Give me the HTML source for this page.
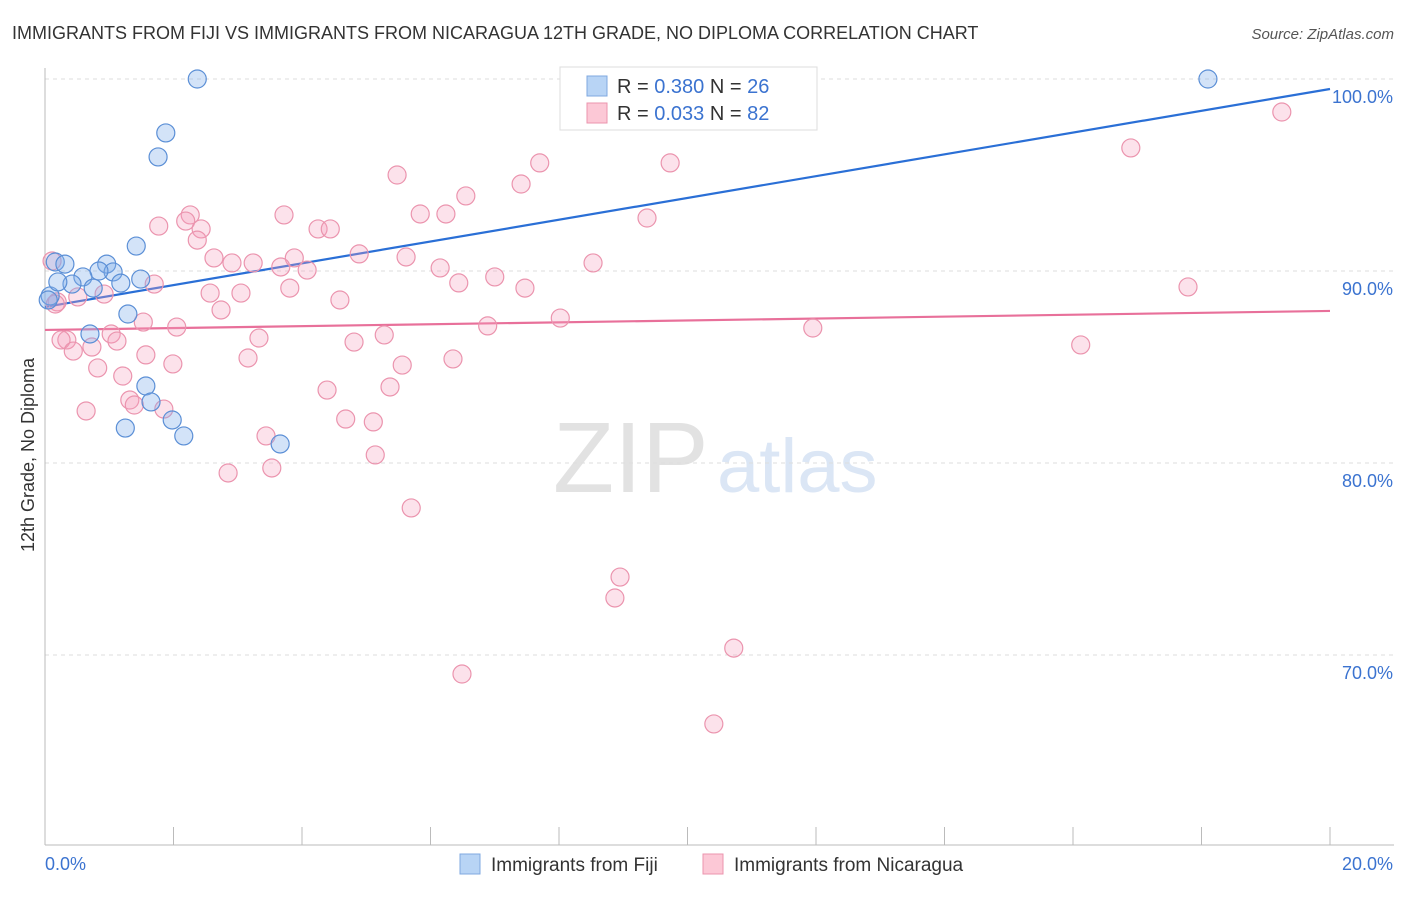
<!DOCTYPE html>
<html><head><meta charset="utf-8">
<style>
body{margin:0;background:#fff;font-family:"Liberation Sans",sans-serif;}
svg text{font-family:"Liberation Sans",sans-serif;}
</style></head>
<body>
<svg id="chart" width="1406" height="892" viewBox="0 0 1406 892" xmlns="http://www.w3.org/2000/svg">
<text x="12" y="39" font-size="18" fill="#333">IMMIGRANTS FROM FIJI VS IMMIGRANTS FROM NICARAGUA 12TH GRADE, NO DIPLOMA CORRELATION CHART</text>
<text x="1394" y="39" font-size="15" fill="#555" text-anchor="end" font-style="italic">Source: ZipAtlas.com</text>
<g>
<text x="553" y="492" font-size="100" fill="#e2e2e2" font-family="Liberation Serif, serif">ZIP</text>
<text x="717" y="492" font-size="76" fill="#dbe6f5">atlas</text>
</g>
<g id="grid"></g>
<g id="axes"></g>
<g id="lines"></g>
<g id="pts"></g>
<text transform="translate(34,455) rotate(-90)" font-size="18" fill="#333" text-anchor="middle">12th Grade, No Diploma</text>
<g>
<rect x="560" y="67" width="257" height="63" fill="#fff" stroke="#ddd"/>
<rect x="587" y="76" width="20" height="20" fill="#b8d4f5" stroke="#7fa8e0"/>
<text x="617" y="93" font-size="20" fill="#333">R = <tspan fill="#3b73d0">0.380</tspan>   N = <tspan fill="#3b73d0">26</tspan></text>
<rect x="587" y="103" width="20" height="20" fill="#fcc8d6" stroke="#eb94ae"/>
<text x="617" y="120" font-size="20" fill="#333">R = <tspan fill="#3b73d0">0.033</tspan>   N = <tspan fill="#3b73d0">82</tspan></text>
</g>
<g>
<rect x="460" y="854" width="20" height="20" fill="#b8d4f5" stroke="#7fa8e0"/>
<text x="491" y="871" font-size="19" fill="#333">Immigrants from Fiji</text>
<rect x="703" y="854" width="20" height="20" fill="#fcc8d6" stroke="#eb94ae"/>
<text x="734" y="871" font-size="19" fill="#333">Immigrants from Nicaragua</text>
</g>
</svg>
<script>
const yTicks=[100,90,80,70];
const yTickLabels=["100.0%","90.0%","80.0%","70.0%"];
const xTicks=[0,2,4,6,8,10,12,14,16,18,20];
const fijiX=[2.37,1.88,1.76,1.42,0.16,0.31,0.96,1.06,0.84,0.59,0.42,1.49,1.18,0.75,0.08,0.05,1.29,0.70,1.57,1.65,1.98,1.25,2.16,3.66,18.10,0.20];
const fijiY=[100,97.19,95.94,91.30,90.47,90.36,90.36,89.95,90.0,89.69,89.32,89.58,89.37,89.11,88.70,88.49,87.76,86.72,84.01,83.18,82.24,81.82,81.41,80.99,100,89.43];
const nicX=[19.25,16.90,9.73,7.70,5.48,7.41,6.55,9.37,5.84,6.24,3.72,2.26,2.19,1.77,2.43,4.25,4.44,2.37,4.89,3.88,2.63,2.91,3.24,5.62,3.67,4.08,8.53,6.15,7.00,6.44,17.79,3.81,1.70,7.47,0.92,0.51,2.57,3.05,0.19,4.59,2.74,8.02,1.53,6.89,2.05,11.95,5.28,3.33,1.03,0.34,0.25,1.12,16.12,4.81,0.73,0.44,1.57,3.16,6.35,1.99,5.56,0.82,1.21,5.37,4.39,1.32,1.39,1.85,0.64,4.68,5.11,3.44,5.14,2.85,3.53,5.70,8.95,8.87,10.72,6.49,10.41,0.11,0.16];
const nicY=[98.28,96.41,95.63,95.63,95.0,94.53,93.91,92.76,92.97,92.97,92.92,92.92,92.60,92.34,92.19,92.19,92.19,91.61,90.89,90.68,90.68,90.42,90.42,90.73,90.21,90.05,90.42,90.16,89.69,89.38,89.17,89.11,89.32,89.11,88.80,88.65,88.85,88.85,88.39,88.49,87.97,87.55,87.34,87.14,87.08,87.03,86.67,86.51,86.72,86.41,86.41,86.35,86.15,86.30,86.04,85.83,85.63,85.47,85.42,85.16,85.10,84.95,84.53,83.96,83.80,83.28,83.02,82.81,82.71,82.29,82.14,81.41,80.42,79.48,79.74,77.66,74.06,72.97,70.36,69.01,66.41,90.52,88.28];
const fijiTrend=[88.13,99.48];
const nicTrend=[86.93,87.92];
const NS="http://www.w3.org/2000/svg";
const xs=v=>45+v/20*1285;
const ys=v=>79+(100-v)*19.2;
function mk(tag,attrs,parent){const e=document.createElementNS(NS,tag);for(const k in attrs)e.setAttribute(k,attrs[k]);document.getElementById(parent).appendChild(e);return e;}
yTicks.forEach((t,i)=>{
 const l=mk('line',{x1:45,x2:1394,y1:ys(t),y2:ys(t),stroke:'#ddd','stroke-dasharray':'4,4'},'grid');
 
 
 const tx=mk('text',{x:1393,y:ys(t)+24,'font-size':18,fill:'#3b73d0','text-anchor':'end'},'grid');
 tx.textContent=yTickLabels[i];
 
 
});
const ax=mk('line',{x1:45,x2:1394,y1:845,y2:845,stroke:'#bbb'},'axes');


const ay=mk('line',{x1:45,x2:45,y1:68,y2:845,stroke:'#bbb'},'axes');


xTicks.forEach(t=>{
 const l=mk('line',{x1:xs(t),x2:xs(t),y1:827,y2:845,stroke:'#bbb'},'axes');
 
 
});
const xl0=mk('text',{x:45,y:870,'font-size':18,fill:'#3b73d0'},'axes');xl0.textContent='0.0%';


const xl1=mk('text',{x:1393,y:870,'font-size':18,fill:'#3b73d0','text-anchor':'end'},'axes');xl1.textContent='20.0%';


nicX.forEach((x,i)=>{
 const c=mk('circle',{cx:xs(x),cy:ys(nicY[i]),r:9,fill:'rgba(245,160,188,0.3)',stroke:'#eb94ae','stroke-width':1.2},'pts');
 
 
});
fijiX.forEach((x,i)=>{
 const c=mk('circle',{cx:xs(x),cy:ys(fijiY[i]),r:9,fill:'rgba(130,175,235,0.35)',stroke:'#5b8fd6','stroke-width':1.2},'pts');
 
 
});
const bl=mk('line',{x1:xs(0),y1:ys(fijiTrend[0]),x2:xs(20),y2:ys(fijiTrend[1]),stroke:'#2a6fd6','stroke-width':2.2},'lines');


const pl=mk('line',{x1:xs(0),y1:ys(nicTrend[0]),x2:xs(20),y2:ys(nicTrend[1]),stroke:'#e8709a','stroke-width':2.2},'lines');


</script>
</body></html>
